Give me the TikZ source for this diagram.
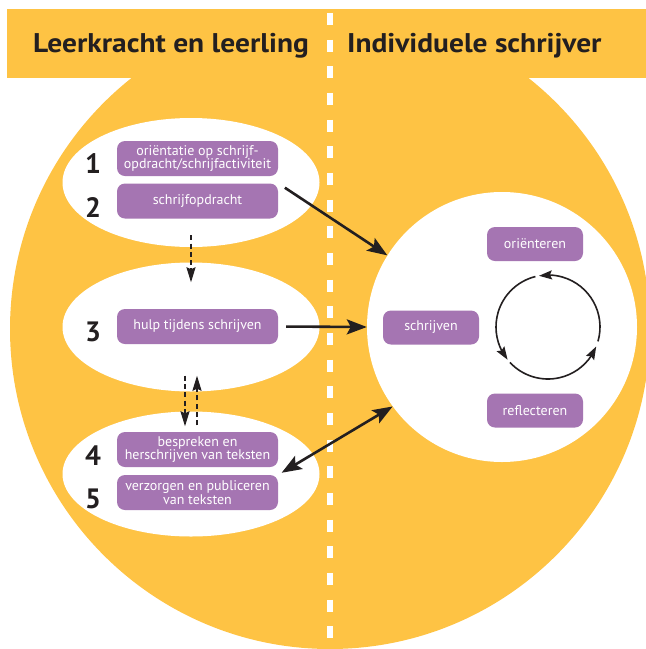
\documentclass[tikz,border=0pt]{standalone}
\usepackage{fontspec}
\setmainfont{PT Sans}
\newfontfamily\ttlfont[FakeStretch=1.09]{PT Sans}
\usetikzlibrary{arrows.meta,shapes.geometric,bending}
\definecolor{ylw}{HTML}{FEC344}
\definecolor{prp}{HTML}{A575B2}
\definecolor{ink}{HTML}{231F20}
\begin{document}
\begin{tikzpicture}[x=1pt,y=-1pt,
 pbox/.style={fill=prp, rounded corners=8pt, text=white, minimum width=161pt, minimum height=35pt, inner sep=0pt, align=center, font=\fontsize{14}{13.5}\selectfont},
 rbox/.style={pbox, minimum width=96pt, minimum height=34pt},
 wellipse/.style={ellipse, fill=white, minimum width=257pt, minimum height=129pt, inner sep=0pt},
 num/.style={font=\fontsize{28}{28}\selectfont\bfseries, text=ink, anchor=base, inner sep=0pt},
 ttl/.style={font=\ttlfont\fontsize{27}{27}\selectfont\bfseries, text=ink, anchor=base west, inner sep=0pt},
 bigtip/.tip={Stealth[length=20pt,width=15pt,inset=4pt]},
 bigarrow/.style={draw=ink, line width=2.6pt, -bigtip},
 dblarrow/.style={draw=ink, line width=2.6pt, bigtip-bigtip},
 dasharrow/.style={draw=ink, line width=2pt, dash pattern=on 5pt off 3.3pt, -{Stealth[length=15pt,width=9pt,inset=2pt]}},
 cyc/.style={draw=ink, line width=1.6pt, -{Stealth[length=13pt,width=9pt,inset=2pt]}}
]
\useasboundingbox (0,0) rectangle (646,649);
\clip (0,0) rectangle (646,649);
% background shapes
\fill[ylw] (7,9) rectangle (646,78);
\fill[ylw] (330,329) circle[radius=320pt];
\draw[white, line width=5.5pt, dash pattern=on 12pt off 14.67pt] (330,-13.7) -- (330,660);
% titles
\node[ttl] (t1) at (33,52) {Leerkracht en leerling};
\node[ttl] (t2) at (347,52) {Individuele schrijver};
% white ellipses and circle
\node[wellipse] (e1) at (191,182.5) {};
\node[wellipse] (e2) at (191,327) {};
\node[wellipse, minimum height=125pt] (e3) at (191,474) {};
\node[circle, fill=white, minimum size=270pt, inner sep=0pt] (wc) at (502,327) {};
% numbers
\node[num] (n1) at (93,173) {1};
\node[num] (n2) at (93,217) {2};
\node[num] (n3) at (93,341.5) {3};
\node[num] (n4) at (93,465) {4};
\node[num] (n5) at (93,508) {5};
% purple boxes
\node[pbox] (b1) at (197.5,158.5) {oriëntatie op schrijf-\\opdracht/schrijfactiviteit};
\node[pbox] (b2) at (197.5,201) {schrijfopdracht};
\node[pbox] (b3) at (197.5,326.5) {hulp tijdens schrijven};
\node[pbox] (b4) at (197.5,449.5) {bespreken en\\herschrijven van teksten};
\node[pbox] (b5) at (197.5,492.5) {verzorgen en publiceren\\van teksten};
\node[rbox] (r1) at (535,244) {oriënteren};
\node[rbox] (r2) at (431,327.5) {schrijven};
\node[rbox] (r3) at (535,410.5) {reflecteren};
% cycle
\coordinate (cc) at (548,327);
\draw[cyc] ([shift={(-16:52pt)}]cc) arc[start angle=-16, end angle=100, radius=52pt];
\draw[cyc] ([shift={(104:52pt)}]cc) arc[start angle=104, end angle=219, radius=52pt];
\draw[cyc] ([shift={(223:52pt)}]cc) arc[start angle=223, end angle=338, radius=52pt];
% big arrows
\draw[bigarrow, shorten <=8pt] (b2.north east) -- (wc.148);
\draw[bigarrow, shorten <=8pt] (b3.east) -- (wc.west);
\draw[dblarrow, shorten <=4pt] (b5.north east) -- (wc.216);
% dashed arrows
\draw[dasharrow] ([yshift=12pt]e1.south) -- ([yshift=-20pt]e2.north);
\draw[dasharrow] ([xshift=-6pt,yshift=16pt]e2.south) -- ([xshift=-6pt,yshift=-15pt]e3.north);
\draw[dasharrow] ([xshift=6pt,yshift=-14pt]e3.north) -- ([xshift=6pt,yshift=16pt]e2.south);
\end{tikzpicture}
\end{document}
